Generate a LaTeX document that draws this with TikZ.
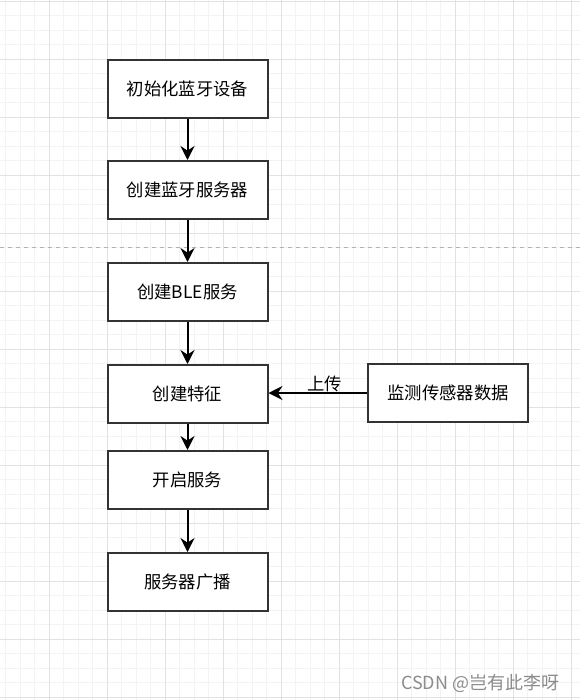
\documentclass[tikz,border=0pt]{standalone}
\usepackage{fontspec}
\setmainfont{Noto Sans CJK SC}
\usetikzlibrary{arrows.meta}
\definecolor{minorgrid}{HTML}{F3F3F3}
\definecolor{majorgrid}{HTML}{E2E2E2}
\definecolor{boxline}{HTML}{333333}
\tikzset{
    flowbox/.style = {draw = boxline, line width = 1.5pt, fill = white, minimum width = 120pt, minimum height = 43.5pt, inner sep = 0pt, font = \fontsize{13pt}{15pt}\selectfont},
    flowarrow/.style = {line width = 1.5pt, -{Stealth[length = 10.5pt, width = 10.5pt, inset = 3.5pt]}}
}
\begin{document}
\begin{tikzpicture}[x=0.75pt,y=0.75pt,yscale=-1,xscale=1]
            \useasboundingbox (0, 0) rectangle (580, 700);
            \fill [white] (0, 0) rectangle (580, 700);
            %grid
            \foreach \i in {0, ..., 39} {
                \draw [minorgrid, line width = 0.75pt] (5.5 + \i * 14.5, 0) -- (5.5 + \i * 14.5, 700);
            }
            \foreach \i in {0, ..., 48} {
                \draw [minorgrid, line width = 0.75pt] (0, 1 + \i * 14.5) -- (580, 1 + \i * 14.5);
            }
            \foreach \i in {0, ..., 9} {
                \draw [majorgrid, line width = 0.75pt] (49 + \i * 58, 0) -- (49 + \i * 58, 700);
            }
            \foreach \i in {0, ..., 12} {
                \draw [majorgrid, line width = 0.75pt] (0, 1 + \i * 58) -- (580, 1 + \i * 58);
            }
            %page break
            \draw [gray!60, dashed, line width = 0.75pt] (0, 247) -- (580, 247);
            %
            %boxes
            \node [flowbox] (init) at (187.5, 89) {初始化蓝牙设备};
            \node [flowbox] (server) at (187.5, 190) {创建蓝牙服务器};
            \node [flowbox] (service) at (187.5, 292) {创建BLE服务};
            \node [flowbox] (charac) at (187.5, 394) {创建特征};
            \node [flowbox] (start) at (187.5, 480) {开启服务};
            \node [flowbox] (advert) at (187.5, 582) {服务器广播};
            \node [flowbox] (sensor) at (448, 393) {监测传感器数据};
            %
            %arrows
            \draw [flowarrow] (init) -- (server);
            \draw [flowarrow] (server) -- (service);
            \draw [flowarrow] (service) -- (charac);
            \draw [flowarrow] (charac) -- (start);
            \draw [flowarrow] (start) -- (advert);
            \draw [flowarrow] (sensor.west) -- (charac.east |- sensor.west) node [pos = 0.43, anchor = south, inner sep = 0pt, font = \fontsize{13pt}{15pt}\selectfont] {上传};
            %
            %watermark
            \node [anchor = east, gray!90, font = \fontsize{13.5pt}{15pt}\selectfont] (mark) at (564, 683) {CSDN @岂有此李呀};
        \end{tikzpicture}
\end{document}
